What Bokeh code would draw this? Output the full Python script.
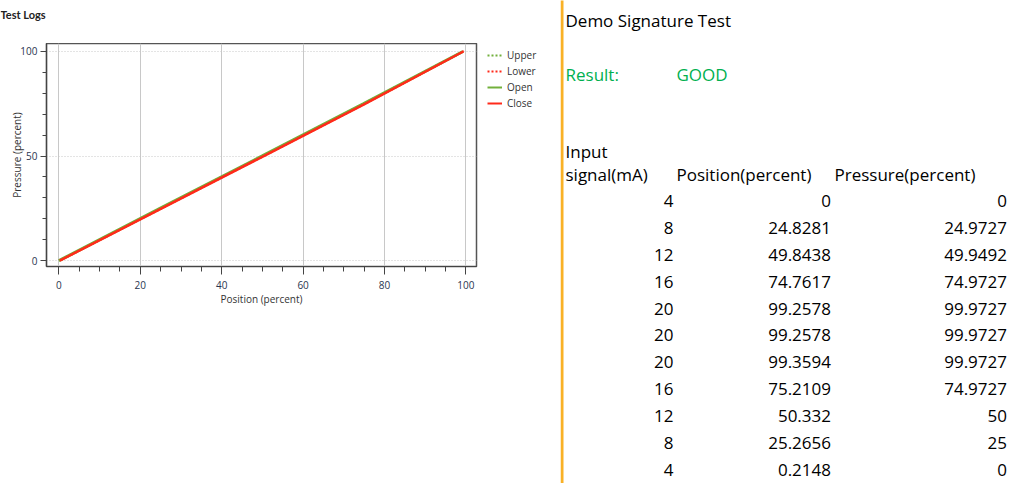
from bokeh.plotting import figure
from bokeh.models import (Range1d, SingleIntervalTicker, Legend, LegendItem)
from bokeh.layouts import row, column
from bokeh.core.properties import value
from bokeh.embed import file_html
from bokeh.resources import INLINE

# ---- data ----
signal_ma = [4, 8, 12, 16, 20, 20, 20, 16, 12, 8, 4]
position_pct = [0, 24.8281, 49.8438, 74.7617, 99.2578, 99.2578, 99.3594, 75.2109, 50.332, 25.2656, 0.2148]
pressure_pct = [0, 24.9727, 49.9492, 74.9727, 99.9727, 99.9727, 99.9727, 74.9727, 50, 25, 0]

open_pos = position_pct[:5]
open_prs = pressure_pct[:5]
close_pos = position_pct[5:]
close_prs = pressure_pct[5:]

series_names = ["Upper", "Lower", "Open", "Close"]
chart_title = "Test Logs"

x_ticks_interval = 20
y_ticks_interval = 50

FONT = "Open Sans"
TFONT = "Open Sans"
GREEN = "#72b03c"
RED = "#ff2a1a"
H = 483
TOP = 43
PW = 46 + 430 + 10
QW = 447


def blank(fig):
    fig.axis.visible = False
    fig.grid.visible = False
    fig.outline_line_color = None
    fig.background_fill_color = "white"
    fig.border_fill_color = "white"


# ---- title strip ----
tf = figure(width=PW, height=TOP, output_backend="svg", toolbar_location=None,
            x_range=Range1d(0, PW), y_range=Range1d(TOP, 0), min_border=0, frame_align=False)
blank(tf)
tf.text(x=[0], y=[14], text=[chart_title], text_font=value("Lato"), text_font_size="11px",
        text_font_style="bold", text_color="#222222", text_baseline="middle")

# ---- chart ----
p = figure(frame_width=430, frame_height=223, output_backend="svg", toolbar_location=None,
           x_range=Range1d(-3.05, 102.6), y_range=Range1d(-2.8, 103.8),
           min_border_left=46, min_border_right=10, min_border_top=0,
           min_border_bottom=H - TOP - 223, frame_align=False)
p.outline_line_color = "#555555"
p.outline_line_width = 1.5
p.background_fill_color = "white"
p.border_fill_color = "white"

p.xaxis.ticker = SingleIntervalTicker(interval=x_ticks_interval, num_minor_ticks=4)
p.yaxis.ticker = SingleIntervalTicker(interval=y_ticks_interval, num_minor_ticks=5)
for ax in (p.xaxis[0], p.yaxis[0]):
    ax.axis_line_color = "#444444"
    ax.axis_line_width = 1.2
    ax.major_tick_line_color = "#444444"
    ax.minor_tick_line_color = "#444444"
    ax.major_tick_in = 0
    ax.minor_tick_in = 0
    ax.major_label_text_font = FONT
    ax.major_label_text_font_size = "10px"
    ax.major_label_text_color = "#2a3550"
    ax.axis_label_text_font = FONT
    ax.axis_label_text_font_size = "10px"
    ax.axis_label_text_font_style = "normal"
    ax.axis_label_text_color = "#333333"
p.xaxis.major_tick_out = 8
p.xaxis.minor_tick_out = 5
p.yaxis.major_tick_out = 6
p.yaxis.minor_tick_out = 4
p.xaxis.axis_label = "Position (percent)"
p.yaxis.axis_label = "Pressure (percent)"
p.xaxis.axis_label_standoff = 0
p.yaxis.axis_label_standoff = -7
p.yaxis.major_label_standoff = 3
p.xaxis.major_label_standoff = 6

p.xgrid.grid_line_color = "#c8c8c8"
p.xgrid.grid_line_width = 1
p.ygrid.grid_line_color = "#c8c8c8"
p.ygrid.grid_line_dash = "1 2"

p.line(open_pos, open_prs, line_color=GREEN, line_width=2, line_dash="2 2")
p.line(close_pos, close_prs, line_color=RED, line_width=2, line_dash="2 2")
p.line(open_pos, open_prs, line_color=GREEN, line_width=3)
p.line(close_pos, close_prs, line_color=RED, line_width=2.5)

# ---- legend strip ----
lf = figure(width=560 - PW, height=H, output_backend="svg", toolbar_location=None,
            x_range=Range1d(0, 1), y_range=Range1d(0, 1), min_border=0, frame_align=False)
blank(lf)
l_up = lf.line(open_pos, open_prs, line_color=GREEN, line_width=2, line_dash="2 2", visible=False)
l_lo = lf.line(close_pos, close_prs, line_color=RED, line_width=2, line_dash="2 2", visible=False)
l_op = lf.line(open_pos, open_prs, line_color=GREEN, line_width=2, visible=False)
l_cl = lf.line(close_pos, close_prs, line_color=RED, line_width=2, visible=False)
legend = Legend(items=[LegendItem(label=n, renderers=[r]) for n, r in
                       zip(series_names, [l_up, l_lo, l_op, l_cl])],
                location=(1, H - 110), border_line_color=None, background_fill_alpha=0,
                inactive_fill_alpha=0,
                margin=0, padding=2, spacing=2, glyph_width=15, glyph_height=12,
                label_height=12, label_standoff=5,
                label_text_font=FONT, label_text_font_size="10px", label_text_color="#333333")
lf.add_layout(legend)

# ---- right text panel ----
q = figure(width=QW, height=H, output_backend="svg", toolbar_location=None,
           x_range=Range1d(0, QW), y_range=Range1d(H, 0),
           min_border=0, frame_align=False)
blank(q)

q.segment(x0=[1.5], y0=[-10], x1=[1.5], y1=[H + 10], line_color="#f9b126", line_width=3)

fs = "17px"
q.text(x=[5], y=[20], text=["Demo Signature Test"], text_font=value(TFONT), text_font_size=fs,
       text_color="black", text_baseline="middle")
q.text(x=[5, 116], y=[74, 74], text=["Result:", "GOOD"], text_font=value(TFONT), text_font_size=fs,
       text_color="#00b050", text_baseline="middle")
q.text(x=[5, 5, 116, 274], y=[151, 174, 174, 174],
       text=["Input", "signal(mA)", "Position(percent)", "Pressure(percent)"],
       text_font=value(TFONT), text_font_size=fs, text_color="black", text_baseline="middle")

row_y = [200.7 + 26.83 * i for i in range(len(signal_ma))]
def fmt(v):
    return f"{v:g}"
q.text(x=[113] * len(signal_ma), y=row_y, text=[fmt(v) for v in signal_ma],
       text_font=value(TFONT), text_font_size=fs, text_color="black",
       text_baseline="middle", text_align="right")
q.text(x=[270.5] * len(signal_ma), y=row_y, text=[fmt(v) for v in position_pct],
       text_font=value(TFONT), text_font_size=fs, text_color="black",
       text_baseline="middle", text_align="right")
q.text(x=[QW - 0.5] * len(signal_ma), y=row_y, text=[fmt(v) for v in pressure_pct],
       text_font=value(TFONT), text_font_size=fs, text_color="black",
       text_baseline="middle", text_align="right")

layout = row(column(tf, p), lf, q)
open("out.html", "w").write(file_html(layout, INLINE))
